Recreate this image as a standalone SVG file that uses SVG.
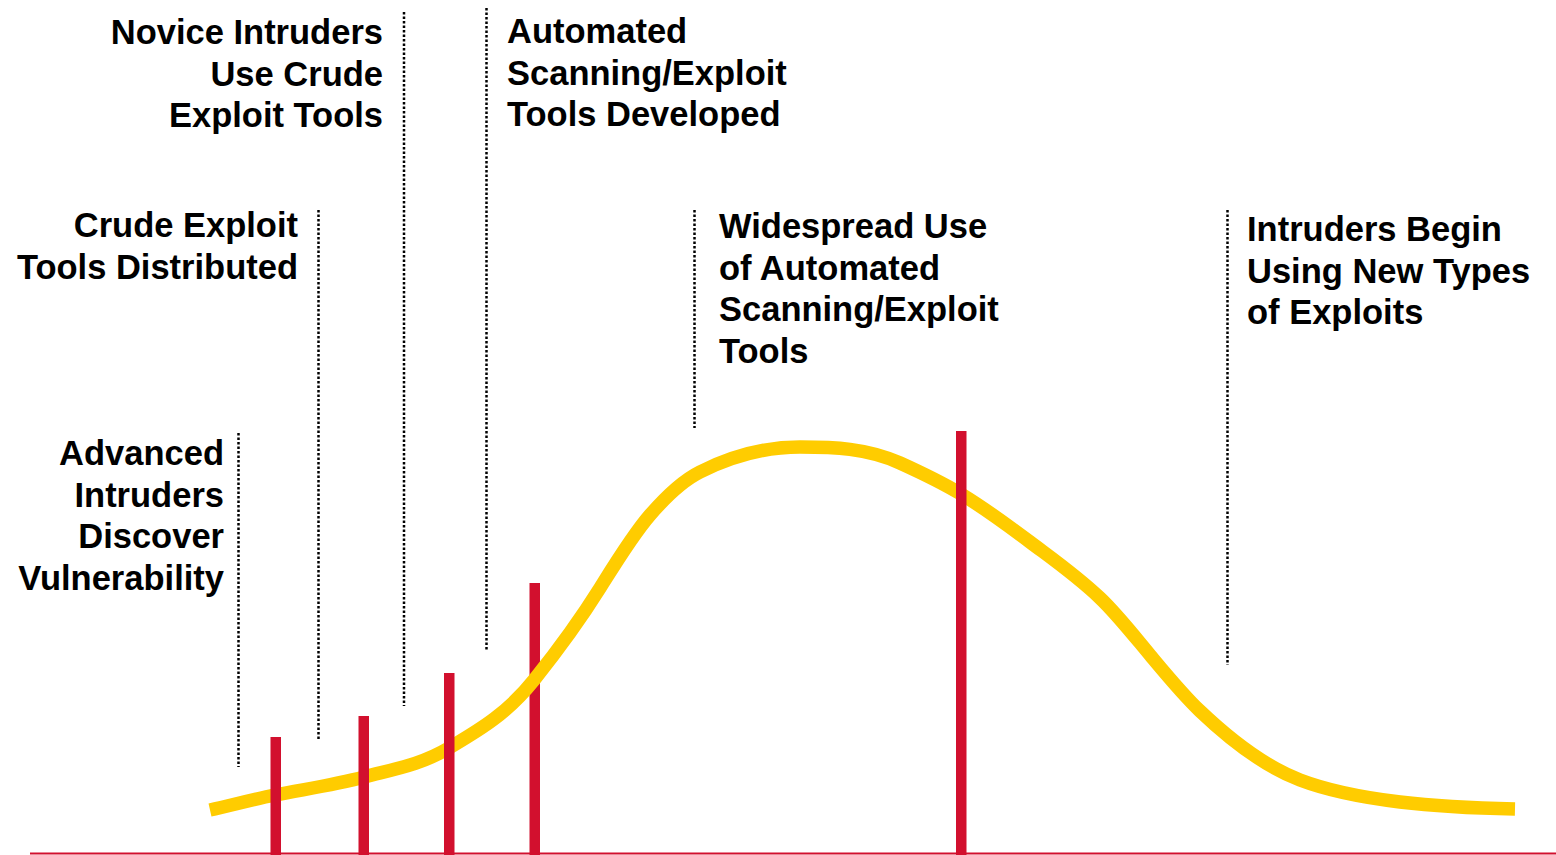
<svg xmlns="http://www.w3.org/2000/svg" width="1556" height="855" viewBox="0 0 1556 855">
<style>
.t{font-family:"Liberation Sans",Arial,sans-serif;font-weight:bold;font-size:34.5px;fill:#000}
.r{text-anchor:end}
.dot{stroke:#000;stroke-width:2.5;stroke-dasharray:2.5 2;fill:none}
.bar{fill:#D2102E}
.curve{fill:none;stroke:#FFCC00;stroke-width:13.5;stroke-linejoin:round}
</style>
<rect width="1556" height="855" fill="#fff"/>
<g id="axis"><rect x="30" y="852.5" width="1526" height="2" class="bar"/></g>
<g id="connectors">
<line class="dot" x1="238.5" y1="433" x2="238.5" y2="767"/>
<line class="dot" x1="318.5" y1="210" x2="318.5" y2="740"/>
<line class="dot" x1="404" y1="12" x2="404" y2="706"/>
<line class="dot" x1="486.5" y1="8" x2="486.5" y2="650"/>
<line class="dot" x1="694.5" y1="210" x2="694.5" y2="428"/>
<line class="dot" x1="1227.5" y1="210" x2="1227.5" y2="665"/>
</g>
<g id="bar4"><rect class="bar" x="529.5" y="583" width="10.5" height="272"/></g>
<g id="curve"><path class="curve" d="M210,810 C231.7,805.2 253.3,799.3 275,795 C304.7,789.1 334.3,785 364,777 C392.3,769.4 420.7,765 449,748 C477.3,731 505.7,715.4 534,680 C556,652.5 578,623.2 600,588 C616.7,561.3 633.3,534.2 650,515 C666.7,495.8 683.3,480.3 700,472 C733.3,455.3 766.7,447 800,447 C833.3,447 866.7,448 900,463 C920.3,472.2 940.7,481.8 961,494 C984,507.8 1007,524.75 1030,542 C1053.3,559.5 1076.7,575.8 1100,598 C1116.7,613.8 1133.3,635 1150,655 C1166.7,675 1183.3,695.2 1200,711 C1233.3,742.7 1266.7,767.3 1300,780 C1333.3,792.7 1366.7,798 1400,802 C1438.3,806.6 1476.7,808.2 1515,809"/></g>
<g id="bar1"><rect class="bar" x="270.5" y="737" width="10.5" height="118"/></g>
<g id="bar2"><rect class="bar" x="358.5" y="716" width="10.5" height="139"/></g>
<g id="bar3"><rect class="bar" x="444" y="673" width="10.5" height="182"/></g>
<g id="bar5"><rect class="bar" x="956" y="431" width="10.5" height="424"/></g>
<g id="label-novice"><text class="t r" x="383" y="44">Novice Intruders</text><text class="t r" x="383" y="85.5">Use Crude</text><text class="t r" x="383" y="127">Exploit Tools</text></g>
<g id="label-crude"><text class="t r" x="298" y="237">Crude Exploit</text><text class="t r" x="298" y="278.5">Tools Distributed</text></g>
<g id="label-advanced"><text class="t r" x="224" y="465">Advanced</text><text class="t r" x="224" y="506.5">Intruders</text><text class="t r" x="224" y="548">Discover</text><text class="t r" x="224" y="589.5">Vulnerability</text></g>
<g id="label-automated"><text class="t" x="507" y="43">Automated</text><text class="t" x="507" y="84.5">Scanning/Exploit</text><text class="t" x="507" y="126">Tools Developed</text></g>
<g id="label-widespread"><text class="t" x="719" y="238">Widespread Use</text><text class="t" x="719" y="279.5">of Automated</text><text class="t" x="719" y="321">Scanning/Exploit</text><text class="t" x="719" y="362.5">Tools</text></g>
<g id="label-newtypes"><text class="t" x="1247" y="241">Intruders Begin</text><text class="t" x="1247" y="282.5">Using New Types</text><text class="t" x="1247" y="324">of Exploits</text></g>
</svg>
